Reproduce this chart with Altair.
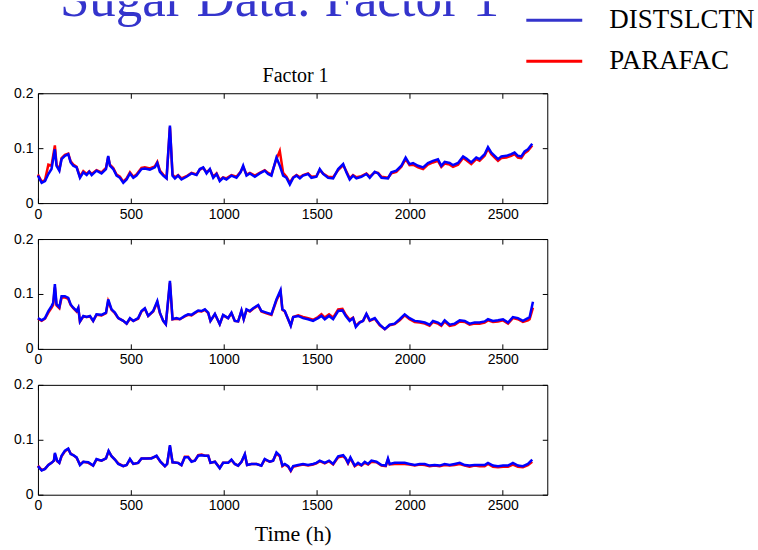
import altair as alt
import pandas as pd

TITLE = "Sugar Data: Factor 1"
SUBTITLE = "Factor 1"
SERIES = ["DISTSLCTN", "PARAFAC"]
LEGEND_COLORS = ["#3434cc", "#ff0000"]
LINE_BLUE = "#0000ff"
LINE_RED = "#ff0000"
TITLE_COLOR = "#3434cc"
X_TICKS = [0, 500, 1000, 1500, 2000, 2500]
Y_TICKS = [0, 0.1, 0.2]
X_LABEL = "Time (h)"

# ---------------- Panel 1 ----------------
T1 = [0, 20, 38, 56, 73, 91, 100, 115, 127, 145,
      163, 176, 190, 208, 226, 244, 262, 276, 289, 315,
      342, 366, 378, 387, 405, 423, 441, 459, 477, 495,
      513, 530, 557, 575, 602, 629, 642, 656, 674, 692,
      710, 724, 737, 754, 772, 799, 826, 853, 871, 889,
      907, 925, 943, 961, 978, 996, 1014, 1041, 1068, 1090,
      1104, 1122, 1140, 1167, 1193, 1220, 1238, 1256, 1283, 1301,
      1319, 1337, 1355, 1373, 1391, 1409, 1426, 1453, 1471, 1498,
      1516, 1534, 1561, 1588, 1615, 1642, 1659, 1677, 1695, 1713,
      1740, 1767, 1785, 1812, 1830, 1848, 1883, 1901, 1928, 1955,
      1978, 1999, 2018, 2045, 2072, 2098, 2125, 2152, 2170, 2188,
      2215, 2233, 2260, 2287, 2305, 2331, 2358, 2376, 2403, 2421,
      2439, 2457, 2475, 2493, 2520, 2546, 2564, 2582, 2600, 2618,
      2636, 2659]
B1 = [.050, .037, .040, .053, .062, .098, .068, .059, .080, .086,
      .089, .074, .068, .065, .046, .056, .051, .057, .051, .059,
      .054, .062, .086, .068, .062, .050, .046, .037, .043, .054,
      .046, .050, .062, .063, .061, .065, .073, .057, .050, .045,
      .141, .050, .045, .050, .043, .048, .054, .051, .062, .065,
      .054, .062, .046, .053, .040, .046, .043, .050, .046, .056,
      .068, .050, .054, .048, .054, .059, .053, .050, .083, .068,
      .050, .046, .034, .046, .050, .045, .050, .053, .046, .048,
      .062, .053, .046, .045, .062, .071, .056, .043, .050, .045,
      .048, .053, .046, .057, .054, .046, .045, .056, .059, .068,
      .083, .071, .073, .068, .065, .073, .077, .080, .068, .075,
      .073, .069, .073, .085, .081, .074, .083, .080, .089, .102,
      .092, .086, .080, .085, .086, .089, .092, .086, .085, .094,
      .098, .108]
R1 = [.052, .039, .042, .070, .068, .105, .070, .061, .082, .088,
      .090, .076, .070, .066, .048, .058, .053, .058, .053, .060,
      .056, .064, .084, .070, .064, .052, .048, .039, .045, .056,
      .048, .052, .064, .065, .063, .067, .075, .059, .052, .046,
      .138, .052, .047, .051, .045, .049, .055, .052, .061, .064,
      .056, .061, .048, .054, .042, .047, .045, .051, .048, .057,
      .066, .052, .055, .050, .055, .060, .055, .052, .080, .095,
      .055, .048, .037, .047, .051, .047, .051, .054, .048, .049,
      .060, .054, .048, .047, .060, .069, .058, .045, .051, .047,
      .049, .054, .048, .056, .055, .048, .046, .054, .057, .066,
      .080, .069, .070, .065, .062, .070, .074, .077, .066, .072,
      .070, .066, .070, .082, .078, .071, .080, .077, .086, .099,
      .089, .083, .077, .082, .083, .086, .089, .083, .082, .091,
      .095, .105]

# ---------------- Panel 2 ----------------
T2 = [0, 20, 38, 56, 73, 82, 91, 100, 115, 127,
      145, 163, 176, 190, 208, 217, 226, 244, 262, 280,
      297, 315, 342, 366, 378, 396, 414, 432, 459, 477,
      495, 513, 539, 557, 575, 593, 620, 642, 656, 674,
      688, 710, 724, 745, 763, 790, 808, 826, 844, 862,
      880, 898, 916, 928, 952, 978, 996, 1023, 1041, 1059,
      1077, 1095, 1107, 1122, 1140, 1158, 1185, 1202, 1229, 1256,
      1283, 1305, 1315, 1328, 1346, 1360, 1373, 1400, 1426, 1453,
      1480, 1507, 1525, 1543, 1566, 1588, 1615, 1638, 1656, 1677,
      1695, 1710, 1731, 1749, 1767, 1785, 1812, 1839, 1866, 1892,
      1919, 1946, 1973, 1999, 2027, 2054, 2081, 2107, 2125, 2152,
      2170, 2188, 2215, 2242, 2269, 2296, 2322, 2349, 2376, 2403,
      2421, 2448, 2475, 2502, 2529, 2555, 2582, 2609, 2636, 2645,
      2663]
B2 = [.056, .052, .056, .069, .078, .084, .118, .081, .076, .096,
      .096, .093, .081, .075, .069, .075, .050, .060, .058, .060,
      .051, .063, .062, .066, .090, .072, .066, .056, .051, .046,
      .056, .051, .056, .069, .074, .060, .069, .087, .066, .051,
      .045, .124, .054, .056, .054, .060, .063, .062, .066, .070,
      .069, .072, .066, .051, .064, .045, .062, .056, .066, .051,
      .050, .070, .054, .072, .069, .074, .080, .069, .066, .063,
      .090, .107, .072, .069, .054, .042, .058, .060, .056, .054,
      .051, .056, .060, .054, .060, .054, .069, .070, .060, .051,
      .056, .040, .048, .051, .064, .052, .056, .044, .036, .044,
      .046, .054, .063, .056, .051, .050, .048, .044, .051, .048,
      .044, .052, .044, .046, .052, .051, .046, .048, .048, .050,
      .054, .051, .052, .054, .048, .058, .056, .051, .056, .058,
      .086]
R2 = [.055, .051, .055, .066, .075, .080, .112, .079, .074, .093,
      .094, .091, .080, .074, .068, .074, .050, .059, .058, .059,
      .051, .062, .061, .065, .087, .071, .065, .056, .051, .046,
      .055, .051, .055, .068, .073, .060, .068, .085, .065, .051,
      .045, .120, .054, .055, .054, .059, .062, .061, .065, .069,
      .068, .071, .065, .051, .063, .045, .061, .056, .065, .051,
      .050, .069, .054, .071, .068, .073, .079, .068, .065, .062,
      .088, .104, .071, .068, .054, .043, .058, .061, .058, .056,
      .053, .058, .063, .057, .063, .057, .072, .073, .062, .053,
      .057, .042, .049, .051, .063, .051, .055, .043, .036, .043,
      .045, .052, .061, .054, .049, .048, .046, .042, .049, .046,
      .042, .050, .042, .044, .050, .049, .044, .046, .046, .048,
      .052, .049, .050, .052, .046, .056, .054, .049, .052, .054,
      .075]

# ---------------- Panel 3 ----------------
T3 = [0, 20, 38, 56, 73, 86, 91, 103, 115, 127,
      145, 163, 176, 190, 208, 226, 244, 271, 297, 315,
      342, 366, 380, 396, 414, 432, 459, 477, 495, 513,
      539, 557, 584, 611, 638, 659, 683, 695, 710, 724,
      754, 772, 790, 808, 826, 844, 862, 880, 898, 916,
      928, 952, 978, 996, 1023, 1041, 1059, 1077, 1095, 1113,
      1125, 1149, 1176, 1202, 1220, 1247, 1265, 1283, 1301, 1315,
      1328, 1346, 1360, 1373, 1400, 1426, 1453, 1480, 1498, 1516,
      1543, 1566, 1588, 1615, 1642, 1656, 1668, 1681, 1704, 1722,
      1740, 1758, 1776, 1794, 1821, 1848, 1871, 1883, 1892, 1919,
      1946, 1973, 1999, 2027, 2054, 2081, 2107, 2134, 2161, 2188,
      2215, 2242, 2269, 2296, 2322, 2349, 2376, 2403, 2421, 2448,
      2475, 2502, 2529, 2555, 2582, 2609, 2636, 2659]
B3 = [.052, .044, .047, .054, .058, .062, .076, .062, .058, .071,
      .080, .084, .074, .072, .068, .054, .060, .059, .053, .065,
      .062, .066, .080, .070, .064, .056, .052, .054, .065, .056,
      .058, .066, .066, .066, .071, .060, .052, .056, .090, .059,
      .058, .054, .068, .068, .060, .062, .071, .072, .071, .071,
      .058, .060, .048, .058, .058, .064, .056, .053, .060, .074,
      .054, .056, .056, .053, .065, .060, .062, .077, .071, .053,
      .056, .052, .044, .052, .054, .056, .054, .056, .058, .062,
      .058, .062, .056, .070, .072, .066, .058, .068, .053, .058,
      .054, .060, .056, .062, .060, .054, .053, .066, .056, .058,
      .058, .058, .056, .054, .056, .056, .053, .054, .053, .056,
      .054, .056, .058, .054, .053, .054, .054, .054, .058, .053,
      .052, .053, .053, .058, .053, .052, .056, .064]
R3 = [.053, .045, .047, .054, .058, .062, .074, .061, .058, .070,
      .079, .083, .075, .072, .067, .055, .060, .058, .053, .064,
      .062, .066, .079, .070, .064, .057, .052, .054, .064, .056,
      .058, .066, .066, .067, .070, .060, .052, .056, .088, .059,
      .058, .054, .069, .069, .061, .062, .072, .073, .071, .071,
      .058, .060, .049, .058, .058, .063, .056, .053, .060, .073,
      .054, .056, .056, .053, .064, .060, .062, .075, .070, .052,
      .055, .051, .043, .051, .053, .055, .053, .055, .057, .061,
      .057, .061, .055, .068, .070, .065, .057, .066, .052, .056,
      .053, .058, .055, .060, .059, .053, .052, .064, .055, .056,
      .056, .056, .055, .053, .055, .054, .052, .053, .052, .054,
      .053, .054, .056, .053, .051, .053, .052, .052, .056, .051,
      .050, .051, .051, .055, .051, .050, .054, .060]

X_DOMAIN = [0, 2740]
Y_DOMAIN = [0, 0.2]
SANS = "Liberation Sans"
SERIF = "Liberation Serif"


def panel(t, blue, red, with_xlabel):
    xs = alt.Scale(domain=X_DOMAIN, nice=False, zero=False)
    ys = alt.Scale(domain=Y_DOMAIN, nice=False)
    ax_bottom = alt.Axis(orient="bottom", values=X_TICKS, tickSize=5, offset=-5,
                         domain=False, grid=False, labelFlush=False, labelPadding=4,
                         labelFont=SANS, labelFontSize=14, labelColor="black",
                         tickColor="black", format="d",
                         title=X_LABEL if with_xlabel else None,
                         titleFont=SERIF, titleFontSize=22, titleFontWeight="normal",
                         titleColor="black", titlePadding=11)
    ax_left = alt.Axis(orient="left", values=Y_TICKS, tickSize=5, offset=-5,
                       domain=False, grid=False, labelFlush=False, labelPadding=5,
                       labelFont=SANS, labelFontSize=14, labelColor="black",
                       tickColor="black", format=".1~f", title=None)
    ax_top = alt.Axis(orient="top", values=X_TICKS, tickSize=5, offset=-5,
                      domain=False, grid=False, labels=False, tickColor="black", title=None)
    ax_right = alt.Axis(orient="right", values=Y_TICKS, tickSize=5, offset=-5,
                        domain=False, grid=False, labels=False, tickColor="black", title=None)
    red_df = pd.DataFrame({"t": t, "v": red})
    blue_df = pd.DataFrame({"t": t, "v": blue})
    red_line = alt.Chart(red_df).mark_line(color=LINE_RED, strokeWidth=2.5).encode(
        x=alt.X("t:Q", scale=xs, axis=ax_bottom),
        y=alt.Y("v:Q", scale=ys, axis=ax_left),
    )
    blue_line = alt.Chart(blue_df).mark_line(color=LINE_BLUE, strokeWidth=2.5).encode(
        x=alt.X("t:Q", scale=xs, axis=ax_top),
        y=alt.Y("v:Q", scale=ys, axis=ax_right),
    )
    return alt.layer(red_line, blue_line).resolve_axis(x="independent", y="independent").properties(
        width=510, height=110)


# ---------------- Header (title, legend, subplot title) ----------------
title_layer = alt.Chart(pd.DataFrame({"text": [TITLE]})).mark_text(
    font=SERIF, fontSize=53, color=TITLE_COLOR, align="center", baseline="alphabetic", clip=True
).encode(x=alt.value(242), y=alt.value(15), text="text:N")

subtitle_layer = alt.Chart(pd.DataFrame({"text": [SUBTITLE]})).mark_text(
    font=SERIF, fontSize=20, color="black", align="center", baseline="alphabetic"
).encode(x=alt.value(258), y=alt.value(81), text="text:N")

legend_df = pd.DataFrame({"series": SERIES, "color": LEGEND_COLORS, "row": [0, 1]})
legend_y = alt.Y("row:Q", scale=alt.Scale(domain=[0, 1], range=[19, 60]), axis=None)
legend_rules = alt.Chart(legend_df).mark_rule(strokeWidth=3).encode(
    x=alt.value(489), x2=alt.value(545), y=legend_y,
    color=alt.Color("color:N", scale=None),
)
legend_text = alt.Chart(legend_df).mark_text(
    font=SERIF, fontSize=27, color="black", align="left", baseline="alphabetic", dy=8
).encode(x=alt.value(572), y=legend_y, text="series:N")

header = alt.layer(title_layer, subtitle_layer, legend_rules, legend_text).properties(
    width=720, height=56, view=alt.ViewBackground(stroke="transparent"))

chart = alt.vconcat(
    header,
    panel(T1, B1, R1, False),
    panel(T2, B2, R2, False),
    panel(T3, B3, R3, True),
    spacing=36, bounds="flush",
).properties(
    padding={"left": 13, "top": 0, "right": 0, "bottom": 0},
    background="white",
).configure_view(stroke="black", strokeWidth=1)

chart.save("out.html", embed_options={"renderer": "svg", "actions": False})
